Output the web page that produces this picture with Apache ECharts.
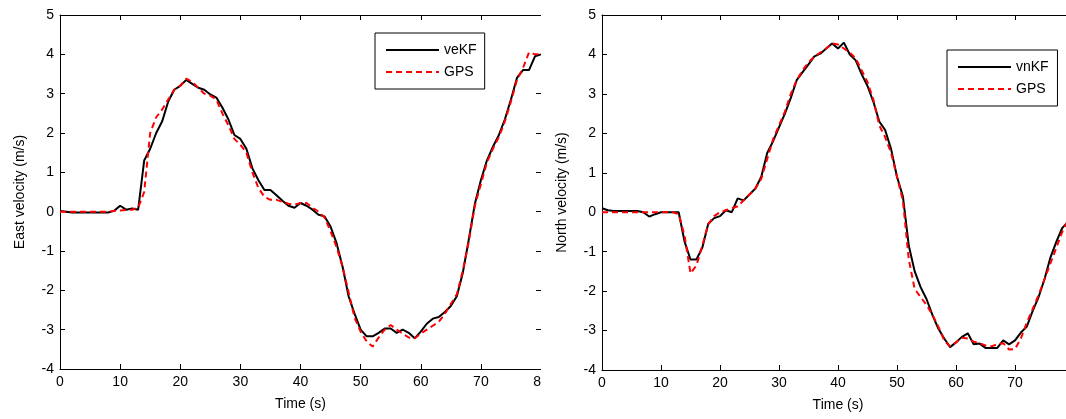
<!DOCTYPE html>
<html>
<head>
<meta charset="utf-8">
<script src="https://cdn.jsdelivr.net/npm/echarts@6/dist/echarts.min.js"></script>
<style>
  html, body { margin: 0; padding: 0; background: #fff; }
  #chart { width: 1066px; height: 419px; }
</style>
</head>
<body>
<div id="chart"></div>
<script>
// time stamps (s)
const timeS = [
  0, 1, 2, 3, 4, 5, 6, 7, 8, 9, 10, 11, 12, 13, 14, 15, 16, 17, 18, 19, 20,
  21, 22, 23, 24, 25, 26, 27, 28, 29, 30, 31, 32, 33, 34, 35, 36, 37, 38, 39, 40,
  41, 42, 43, 44, 45, 46, 47, 48, 49, 50, 51, 52, 53, 54, 55, 56, 57, 58, 59, 60,
  61, 62, 63, 64, 65, 66, 67, 68, 69, 70, 71, 72, 73, 74, 75, 76, 77, 78, 79, 80
];

// east velocity, Kalman filter
const veKF = [
  0.02, 0.0, -0.02, -0.02, -0.02, -0.02, -0.02, -0.02, -0.02, 0.02, 0.15,
  0.05, 0.08, 0.05, 1.3, 1.6, 2.0, 2.3, 2.8, 3.1, 3.2,
  3.35, 3.25, 3.15, 3.1, 2.98, 2.9, 2.65, 2.35, 1.95, 1.85,
  1.6, 1.1, 0.8, 0.55, 0.55, 0.42, 0.28, 0.15, 0.1, 0.22,
  0.15, 0.05, -0.08, -0.12, -0.38, -0.8, -1.4, -2.15, -2.6, -3.0,
  -3.17, -3.17, -3.08, -2.97, -2.97, -3.08, -3.0, -3.08, -3.22, -3.05,
  -2.85, -2.72, -2.68, -2.55, -2.4, -2.15, -1.55, -0.7, 0.2, 0.8,
  1.3, 1.65, 1.95, 2.35, 2.85, 3.4, 3.6, 3.6, 3.95, 4.0
];

// east velocity, GPS
const veGPS = [
  0.0, 0.0, 0.0, 0.0, 0.0, 0.0, 0.0, 0.0, 0.0, 0.02, 0.03,
  0.04, 0.05, 0.1, 0.5, 2.0, 2.4, 2.6, 2.85, 3.1, 3.2,
  3.38, 3.3, 3.15, 3.0, 2.95, 2.85, 2.5, 2.2, 1.85, 1.7,
  1.5, 1.0, 0.6, 0.38, 0.3, 0.3, 0.25, 0.2, 0.18, 0.22,
  0.22, 0.1, 0.0, -0.15, -0.5, -0.9, -1.4, -2.05, -2.7, -3.05,
  -3.3, -3.43, -3.2, -3.0, -2.88, -3.0, -3.1, -3.2, -3.22, -3.1,
  -3.0, -2.9, -2.8, -2.6, -2.35, -2.1, -1.5, -0.75, 0.15, 0.7,
  1.25, 1.6, 1.9, 2.3, 2.8, 3.35, 3.65, 4.05, 4.0, 4.0
];

// north velocity, Kalman filter
const vnKF = [
  0.1, 0.05, 0.03, 0.03, 0.03, 0.03, 0.03, 0.0, -0.11, -0.05, 0.0,
  0.0, 0.0, 0.0, -0.75, -1.2, -1.2, -0.9, -0.3, -0.15, -0.1,
  0.05, 0.0, 0.35, 0.3, 0.45, 0.6, 0.9, 1.5, 1.8, 2.15,
  2.5, 2.9, 3.35, 3.55, 3.75, 3.95, 4.02, 4.15, 4.28, 4.15,
  4.3, 4.0, 3.85, 3.5, 3.2, 2.8, 2.3, 2.08, 1.6, 0.9,
  0.4, -0.85, -1.5, -1.9, -2.2, -2.6, -2.95, -3.2, -3.42, -3.3,
  -3.16, -3.07, -3.35, -3.33, -3.44, -3.44, -3.44, -3.25, -3.35, -3.25,
  -3.05, -2.9, -2.5, -2.15, -1.7, -1.15, -0.75, -0.4, -0.25, -0.1
];

// north velocity, GPS
const vnGPS = [
  0.0, 0.0, 0.0, 0.0, 0.0, 0.0, 0.0, 0.0, 0.0, 0.0, 0.0,
  0.0, 0.0, -0.05, -0.6, -1.55, -1.35, -0.85, -0.3, -0.1, 0.0,
  0.05, 0.1, 0.15, 0.3, 0.45, 0.6, 0.85, 1.35, 1.85, 2.2,
  2.55, 3.0, 3.35, 3.6, 3.8, 3.95, 4.05, 4.15, 4.28, 4.25,
  4.15, 4.05, 3.9, 3.6, 3.3, 2.85, 2.2, 1.9, 1.5, 0.9,
  0.3, -1.2, -1.95, -2.15, -2.35, -2.6, -2.9, -3.25, -3.4, -3.3,
  -3.18, -3.2, -3.28, -3.32, -3.38, -3.4, -3.35, -3.32, -3.48, -3.47,
  -3.2, -2.8, -2.45, -2.1, -1.7, -1.3, -0.9, -0.5, -0.2, 0.0
];

const FONT = 'Liberation Sans, Arial, Helvetica, sans-serif';
const pair = (ys) => timeS.map((t, i) => [t, ys[i]]);

const chart = echarts.init(document.getElementById('chart'), null, { renderer: 'canvas' });

// the right panel runs past the picture's edge, as in the source figure
const grids = [
  { left: 60, top: 15, width: 481, height: 354, outerBoundsMode: 'none', containLabel: false },
  { left: 602, top: 15, width: 472, height: 355, outerBoundsMode: 'none', containLabel: false }
];

const xAxes = [];
const yAxes = [];
const yNames = ['East velocity (m/s)', 'North velocity (m/s)'];

grids.forEach((g, gi) => {
  const tick = { show: true, inside: true, length: 5, lineStyle: { color: '#000' } };
  const line = { show: true, onZero: false, lineStyle: { color: '#000', width: 1 } };
  xAxes.push({
    type: 'value', gridIndex: gi, min: 0, max: 80, interval: 10, position: 'bottom',
    name: 'Time (s)', nameLocation: 'middle', nameGap: 28,
    nameTextStyle: { color: '#000', fontSize: 14, fontFamily: FONT },
    axisLine: line, axisTick: tick, splitLine: { show: false },
    axisLabel: { color: '#000', fontSize: 14, fontFamily: FONT, margin: 6 }
  });
  xAxes.push({
    type: 'value', gridIndex: gi, min: 0, max: 80, interval: 10, position: 'top',
    axisLine: line, axisTick: tick, axisLabel: { show: false }, splitLine: { show: false }
  });
  yAxes.push({
    type: 'value', gridIndex: gi, min: -4, max: 5, interval: 1, position: 'left',
    name: yNames[gi], nameLocation: 'middle', nameGap: 33,
    nameTextStyle: { color: '#000', fontSize: 14, fontFamily: FONT },
    axisLine: line, axisTick: tick, splitLine: { show: false },
    axisLabel: { color: '#000', fontSize: 14, fontFamily: FONT, margin: 6 }
  });
  yAxes.push({
    type: 'value', gridIndex: gi, min: -4, max: 5, interval: 1, position: 'right',
    axisLine: line, axisTick: tick, axisLabel: { show: false }, splitLine: { show: false }
  });
});

const kfStyle = { color: '#000', width: 2 };
const gpsStyle = { color: '#ff0000', width: 2, type: [6, 4] };

const mkSeries = (name, ys, gi, style) => ({
  name, type: 'line', data: pair(ys),
  xAxisIndex: gi * 2, yAxisIndex: gi * 2,
  showSymbol: false, symbol: 'none', animation: false,
  lineStyle: style, itemStyle: { color: style.color }
});

const legendBase = {
  orient: 'vertical', backgroundColor: '#fff',
  borderColor: '#000', borderWidth: 1, padding: [10, 8, 10, 10],
  itemWidth: 53, itemHeight: 14, itemGap: 8,
  itemStyle: { opacity: 0 },
  textStyle: { color: '#000', fontSize: 14, fontFamily: FONT }
};

const option = {
  backgroundColor: '#fff',
  animation: false,
  grid: grids,
  xAxis: xAxes,
  yAxis: yAxes,
  legend: [
    Object.assign({ left: 375, top: 33, data: ['veKF', 'GPS'] }, legendBase),
    Object.assign({ left: 947, top: 50, data: ['vnKF', 'GPS '] }, legendBase)
  ],
  series: [
    mkSeries('veKF', veKF, 0, kfStyle),
    mkSeries('GPS', veGPS, 0, gpsStyle),
    mkSeries('vnKF', vnKF, 1, kfStyle),
    mkSeries('GPS ', vnGPS, 1, gpsStyle)
  ],
  // the left panel is cropped at its right edge in the source figure
  graphic: [
    { type: 'rect', z: 100, shape: { x: 541, y: 0, width: 12, height: 419 }, style: { fill: '#fff' } }
  ]
};

chart.setOption(option);
</script>
</body>
</html>
